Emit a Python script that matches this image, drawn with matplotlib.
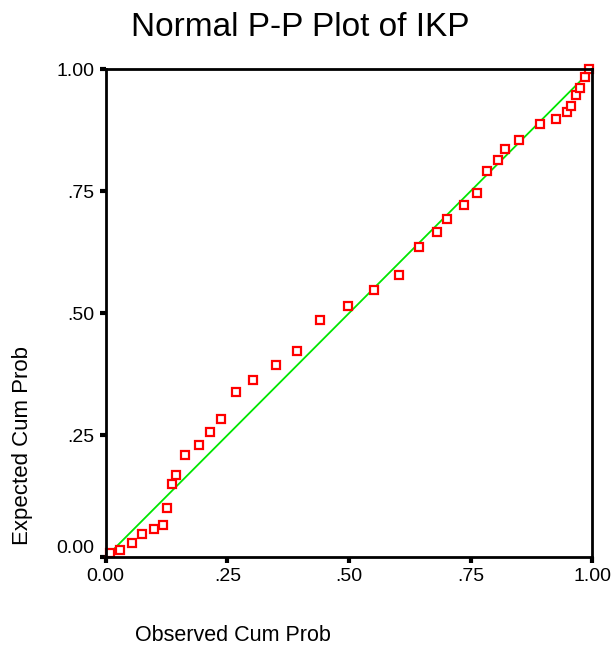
import matplotlib.pyplot as plt

plt.rcParams['font.family'] = ['Liberation Sans', 'DejaVu Sans']

# observed vs expected cumulative probabilities
observed = [0.009, 0.030, 0.055, 0.074, 0.100, 0.118, 0.126, 0.136, 0.144, 0.163,
            0.191, 0.214, 0.236, 0.268, 0.302, 0.349, 0.394, 0.441, 0.497, 0.551,
            0.603, 0.644, 0.680, 0.702, 0.736, 0.764, 0.783, 0.806, 0.820, 0.849,
            0.893, 0.926, 0.948, 0.956, 0.967, 0.975, 0.985, 0.993]
expected = [0.009, 0.014, 0.029, 0.047, 0.059, 0.066, 0.102, 0.150, 0.169, 0.210,
            0.231, 0.257, 0.283, 0.338, 0.364, 0.393, 0.423, 0.486, 0.515, 0.548,
            0.578, 0.636, 0.666, 0.693, 0.721, 0.747, 0.792, 0.814, 0.836, 0.854,
            0.887, 0.898, 0.913, 0.925, 0.946, 0.962, 0.984, 1.000]

ticks = [0, 0.25, 0.5, 0.75, 1.0]
tick_labels = ['0.00', '.25', '.50', '.75', '1.00']

fig = plt.figure(figsize=(6.11, 6.5), dpi=100)
ax = fig.add_axes([0.173, 0.1426, 0.7964, 0.7512])

# reference diagonal
ax.plot([0, 1], [0, 1], color='#00e600', lw=1.3, zorder=1)
ax.plot(observed, expected, linestyle='none', marker='s', markersize=6,
        markerfacecolor='white', markeredgecolor='red', markeredgewidth=1.6,
        zorder=2, clip_on=False)

ax.set_xlim(0, 1)
ax.set_ylim(0, 1)
ax.set_xticks(ticks)
ax.set_xticklabels(tick_labels)
ax.set_yticks(ticks)
ax.set_yticklabels(tick_labels)
ax.tick_params(direction='out', length=4, width=3, labelsize=14, pad=4)
# SPSS lifts the bottom y label a little
ax.get_yticklabels()[0].set_va('bottom')
for s in ax.spines.values():
    s.set_linewidth(2)

fig.text(0.491, 0.958, 'Normal P-P Plot of IKP', ha='center', va='center', fontsize=24)
fig.text(0.037, 0.315, 'Expected Cum Prob', rotation=90, ha='center', va='center', fontsize=16)
fig.text(0.381, 0.022, 'Observed Cum Prob', ha='center', va='center', fontsize=15.5)

fig.savefig('out.png', dpi=100)
